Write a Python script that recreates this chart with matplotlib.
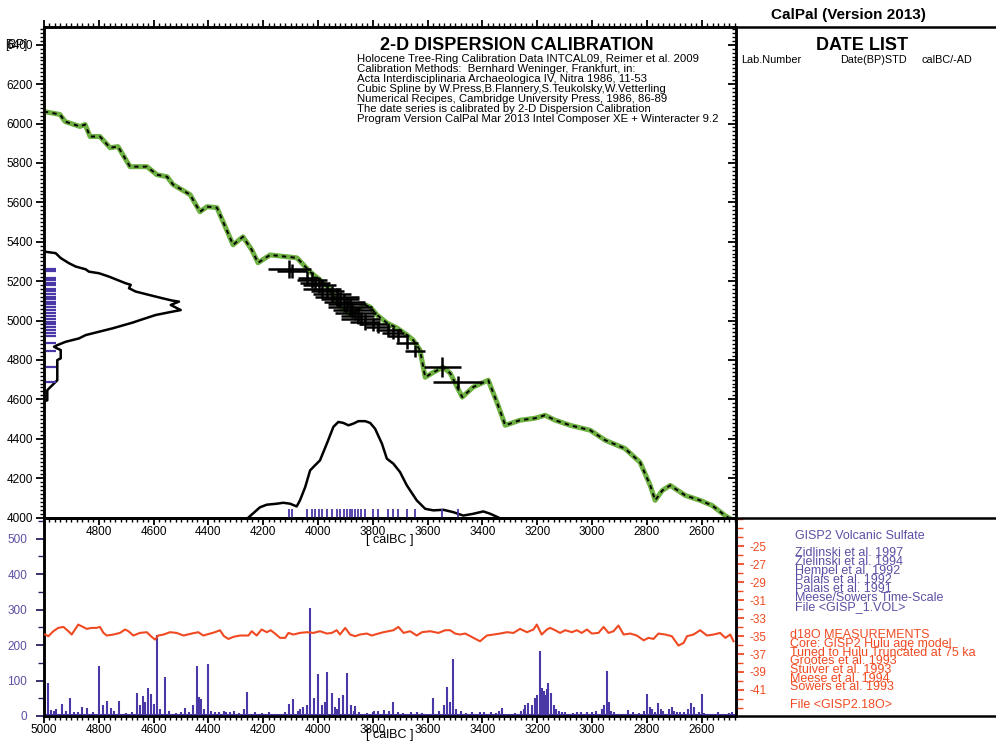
import matplotlib
matplotlib.use("Agg")
import matplotlib.pyplot as plt
from matplotlib.lines import Line2D
from matplotlib.ticker import MultipleLocator, FixedLocator, FuncFormatter

plt.rcParams['font.family'] = ['Liberation Sans', 'DejaVu Sans']
plt.rcParams['axes.unicode_minus'] = False

# ---------------- data ----------------
# calibration curve (calBC, BP)
curve_cal = [5000, 4942, 4923, 4869, 4850, 4832, 4796, 4759, 4730, 4686, 4624, 4588, 4551,
             4529, 4467, 4431, 4405, 4369, 4310, 4274, 4242, 4219, 4175, 4077, 4029, 3993,
             3956, 3920, 3883, 3858, 3828, 3810, 3785, 3748, 3712, 3675, 3653, 3628, 3609,
             3584, 3544, 3518, 3474, 3434, 3379, 3346, 3317, 3263, 3208, 3172, 3135, 3080,
             3007, 2952, 2880, 2825, 2788, 2770, 2744, 2715, 2660, 2606, 2562, 2515, 2480]
curve_bp = [6061, 6046, 6010, 5985, 5995, 5934, 5934, 5877, 5883, 5781, 5781, 5740, 5730,
            5690, 5639, 5552, 5578, 5573, 5384, 5425, 5359, 5293, 5333, 5318, 5247, 5206,
            5155, 5069, 5028, 5053, 5079, 5069, 5028, 4987, 4962, 4926, 4901, 4850, 4712,
            4733, 4763, 4733, 4611, 4662, 4697, 4580, 4468, 4494, 4504, 4519, 4494, 4468,
            4443, 4392, 4350, 4280, 4163, 4087, 4137, 4163, 4112, 4087, 4061, 4010, 3980]

# radiocarbon dates: calibrated median, cal half-range, BP, BP std
date_cal = [4105, 4095, 4040, 4022, 4010, 3996, 3985, 3967, 3950, 3931, 3920, 3905, 3895, 3885,
            3875, 3865, 3855, 3845, 3828, 3799, 3781, 3744, 3725, 3708, 3675, 3646, 3547, 3490]
date_cal_hw = [78, 55, 35, 55, 55, 60, 70, 60, 70, 80, 70, 75, 70, 80,
               70, 75, 60, 70, 55, 50, 45, 45, 40, 35, 40, 35, 67, 90]
date_bp = [5262, 5250, 5216, 5205, 5191, 5180, 5160, 5150, 5135, 5120, 5109, 5095, 5084, 5070,
           5053, 5040, 5023, 5010, 4992, 4980, 4967, 4950, 4936, 4920, 4886, 4845, 4763, 4687]
date_bp_sd = [45, 35, 35, 40, 35, 40, 45, 35, 40, 45, 35, 40, 35, 45,
              40, 35, 40, 35, 40, 35, 30, 35, 30, 30, 30, 30, 50, 30]

# summed probability in BP domain (relative)
bpdens_bp = [5350, 5342, 5317, 5291, 5274, 5260, 5248, 5240, 5223, 5189, 5181, 5164, 5147, 5130,
             5113, 5101, 5096, 5079, 5053, 5045, 5028, 5006, 4989, 4960, 4943, 4926, 4909, 4892,
             4875, 4867, 4858, 4850, 4808, 4799, 4748, 4697, 4672, 4655, 4646, 4595, 4590]
bpdens_p = [0.0, 0.085, 0.122, 0.182, 0.231, 0.304, 0.328, 0.401, 0.474, 0.596, 0.633, 0.620,
            0.669, 0.766, 0.864, 0.937, 0.985, 0.925, 0.998, 0.937, 0.815, 0.718, 0.645, 0.499,
            0.401, 0.304, 0.255, 0.158, 0.097, 0.073, 0.097, 0.122, 0.122, 0.097, 0.097, 0.097,
            0.061, 0.036, 0.024, 0.024, 0.0]

# summed probability in calendar domain (relative)
caldens_cal = [4254, 4212, 4187, 4151, 4127, 4102, 4078, 4066, 4047, 4029, 4011, 3993, 3968,
               3944, 3926, 3908, 3889, 3871, 3853, 3828, 3810, 3792, 3767, 3749, 3725, 3701,
               3676, 3640, 3609, 3579, 3543, 3506, 3470, 3433, 3397, 3372, 3342]
caldens_p = [0.0, 0.106, 0.133, 0.143, 0.153, 0.143, 0.115, 0.178, 0.315, 0.489, 0.542, 0.593,
             0.767, 0.941, 0.992, 0.982, 0.957, 0.975, 1.0, 1.0, 0.982, 0.922, 0.767, 0.611,
             0.558, 0.472, 0.333, 0.178, 0.090, 0.074, 0.080, 0.055, 0.020, 0.039, 0.063,
             0.039, 0.0]

# GISP2 volcanic sulfate (calBC, ppb)
sulf_year = [4985, 4975, 4965, 4955, 4934, 4920, 4905, 4890, 4875, 4860, 4843, 4820, 4800, 4785,
             4770, 4755, 4745, 4726, 4700, 4680, 4660, 4650, 4638, 4630, 4620, 4609, 4600, 4588,
             4575, 4558, 4545, 4520, 4500, 4485, 4470, 4455, 4441, 4433, 4427, 4415, 4401, 4390,
             4375, 4360, 4345, 4335, 4320, 4307, 4290, 4270, 4259, 4230, 4205, 4180, 4160, 4120,
             4105, 4091, 4075, 4065, 4055, 4040, 4029, 4015, 4000, 3985, 3975, 3967, 3950, 3940,
             3930, 3922, 3910, 3894, 3880, 3870, 3865, 3850, 3820, 3800, 3795, 3780, 3760, 3740,
             3726, 3710, 3690, 3660, 3640, 3620, 3600, 3580, 3560, 3540, 3529, 3520, 3507, 3495,
             3480, 3460, 3440, 3420, 3410, 3395, 3370, 3350, 3340, 3330, 3310, 3280, 3260, 3250,
             3244, 3234, 3220, 3210, 3200, 3190, 3182, 3175, 3170, 3165, 3160, 3150, 3140, 3130,
             3120, 3110, 3100, 3070, 3055, 3040, 3020, 3000, 2985, 2965, 2955, 2945, 2940, 2930,
             2920, 2900, 2870, 2850, 2830, 2810, 2799, 2790, 2780, 2770, 2760, 2750, 2740, 2720,
             2710, 2700, 2690, 2680, 2665, 2650, 2638, 2630, 2610, 2598, 2590, 2560, 2540, 2520,
             2500, 2490]
sulf_val = [94, 18, 14, 20, 34, 15, 51, 12, 10, 25, 23, 12, 140, 30,
            43, 22, 15, 43, 8, 12, 65, 30, 57, 40, 80, 63, 35, 228,
            20, 110, 15, 8, 10, 23, 12, 30, 142, 55, 48, 20, 148, 15,
            10, 12, 15, 10, 12, 15, 8, 20, 68, 10, 8, 12, 6, 10,
            35, 48, 15, 20, 26, 30, 304, 50, 119, 30, 40, 125, 65, 25,
            20, 51, 60, 122, 30, 15, 27, 12, 8, 10, 14, 15, 18, 15,
            40, 12, 8, 10, 12, 8, 6, 51, 15, 30, 82, 40, 162, 20,
            15, 8, 10, 6, 12, 10, 12, 8, 15, 22, 5, 8, 15, 20,
            31, 37, 30, 50, 60, 184, 80, 70, 60, 75, 94, 65, 30, 20,
            15, 10, 12, 8, 10, 12, 10, 12, 15, 20, 30, 128, 40, 15,
            10, 6, 18, 10, 8, 15, 62, 25, 20, 12, 37, 20, 15, 20,
            25, 15, 10, 12, 12, 20, 37, 25, 10, 62, 8, 6, 10, 5,
            8, 12]

# GISP2 d18O (calBC, permil)
d18o_year = [4996, 4984, 4966, 4948, 4929, 4911, 4899, 4887, 4875, 4863, 4844, 4826, 4808, 4796,
             4783, 4771, 4747, 4723, 4704, 4692, 4674, 4650, 4625, 4607, 4595, 4583, 4564, 4540,
             4516, 4491, 4461, 4437, 4419, 4394, 4376, 4358, 4343, 4327, 4309, 4285, 4254, 4242,
             4224, 4206, 4187, 4173, 4157, 4139, 4120, 4108, 4090, 4066, 4041, 4017, 3993, 3968,
             3950, 3932, 3920, 3901, 3883, 3865, 3847, 3822, 3804, 3780, 3761, 3743, 3725, 3707,
             3688, 3664, 3640, 3621, 3591, 3561, 3536, 3518, 3500, 3482, 3463, 3433, 3409, 3384,
             3360, 3336, 3311, 3287, 3263, 3238, 3214, 3202, 3184, 3165, 3153, 3135, 3117, 3098,
             3074, 3056, 3038, 3019, 3001, 2977, 2958, 2940, 2922, 2904, 2885, 2861, 2837, 2812,
             2794, 2776, 2758, 2733, 2709, 2685, 2666, 2654, 2630, 2606, 2581, 2557, 2533, 2514,
             2496, 2484]
d18o_val = [-34.83, -35.02, -34.46, -34.09, -33.98, -34.46, -34.83, -34.27, -33.72, -33.90,
            -34.20, -34.09, -34.09, -33.98, -34.65, -34.94, -34.83, -34.65, -34.27, -34.46,
            -34.94, -34.65, -34.57, -35.09, -35.39, -34.94, -34.83, -34.57, -34.65, -34.94,
            -34.72, -34.57, -34.94, -34.72, -34.57, -34.35, -35.02, -35.32, -35.09, -34.94,
            -34.94, -34.46, -34.94, -34.27, -34.57, -34.35, -34.72, -35.20, -35.20, -34.65,
            -34.83, -34.65, -34.57, -34.65, -34.46, -34.72, -34.65, -34.35, -34.83, -34.09,
            -34.83, -35.02, -34.83, -34.72, -34.94, -34.72, -34.57, -34.46, -34.35, -33.98,
            -34.65, -34.46, -34.94, -34.57, -34.46, -34.65, -34.35, -34.35, -34.72, -34.83,
            -34.72, -35.20, -35.58, -34.94, -34.83, -34.72, -34.57, -34.65, -34.20, -34.57,
            -34.27, -33.72, -34.83, -34.27, -34.09, -34.35, -34.65, -34.35, -34.57, -34.35,
            -34.65, -34.27, -34.72, -34.65, -33.98, -34.65, -34.46, -33.83, -34.83, -34.72,
            -34.94, -35.47, -35.20, -35.32, -34.72, -34.83, -35.02, -36.06, -35.76, -35.02,
            -34.83, -34.35, -34.94, -34.83, -34.65, -35.20, -34.83, -35.58]

x_ticks = [5000, 4800, 4600, 4400, 4200, 4000, 3800, 3600, 3400, 3200, 3000, 2800, 2600]
bp_ticks = [4000, 4200, 4400, 4600, 4800, 5000, 5200, 5400, 5600, 5800, 6000, 6200, 6400]
sulf_ticks = [0, 100, 200, 300, 400, 500]
d18o_ticks = [-25, -27, -29, -31, -33, -35, -37, -39, -41]

info_lines = [
    "Holocene Tree-Ring Calibration Data INTCAL09, Reimer et al. 2009",
    "Calibration Methods:  Bernhard Weninger, Frankfurt, in:",
    "Acta Interdisciplinaria Archaeologica IV, Nitra 1986, 11-53",
    "Cubic Spline by W.Press,B.Flannery,S.Teukolsky,W.Vetterling",
    "Numerical Recipes, Cambridge University Press, 1986, 86-89",
    "The date series is calibrated by 2-D Dispersion Calibration",
    "Program Version CalPal Mar 2013 Intel Composer XE + Winteracter 9.2",
]
sulf_lines = ["Zidlinski et al. 1997", "Zielinski et al. 1994", "Hempel et al. 1992",
              "Palais et al. 1992", "Palais et al. 1991", "Meese/Sowers Time-Scale",
              "File <GISP_1.VOL>"]
d18o_lines = ["Core: GISP2 Hulu age model", "Tuned to Hulu Truncated at 75 ka",
              "Grootes et al. 1993", "Stuiver et al. 1993", "Meese et al. 1994",
              "Sowers et al. 1993"]

# ---------------- style ----------------
W, H = 996, 742
PURPLE = '#4a38a6'
PURPLE_T = '#5d4fa3'
RED = '#f04a22'
GREEN = '#6fb043'


def fx(x):
    return x / W


def fy(y):
    return 1 - y / H


fig = plt.figure(figsize=(W / 100, H / 100), dpi=100)
fig.patch.set_facecolor('white')

X0, X1 = 44, 736
YT, YM, YB = 27, 517.5, 716
axb = fig.add_axes([fx(X0), fy(YB), fx(X1 - X0), (YB - YM) / H])
axb.patch.set_visible(False)
ax = fig.add_axes([fx(X0), fy(YM), fx(X1 - X0), (YM - YT) / H])
ax.set_zorder(3)
ax.patch.set_visible(False)

XL = (5000, 2475)
YL = (4000, 6490)
ax.set_xlim(*XL)
ax.set_ylim(*YL)

# calibration curve
ax.plot(curve_cal, curve_bp, color=GREEN, lw=3.6, solid_capstyle='round', zorder=3)
ax.plot(curve_cal, curve_bp, color='black', lw=1.4, dashes=(2.2, 2.2), zorder=4)

# dates with error crosses
ax.errorbar(date_cal, date_bp, xerr=date_cal_hw, yerr=date_bp_sd, fmt='none',
            ecolor='black', elinewidth=1.8, capsize=0, zorder=5)

# BP-domain probability (drawn along left axis)
bp_scale = 500.0
ax.plot([XL[0] - p * bp_scale for p in bpdens_p], bpdens_bp, color='black', lw=1.8, zorder=6)
ax.hlines(date_bp, XL[0], XL[0] - 45, color=PURPLE, lw=1.6, zorder=6)

# cal-domain probability (drawn along bottom axis)
cal_scale = 489.0
ax.plot(caldens_cal, [4000 + p * cal_scale for p in caldens_p], color='black', lw=1.8, zorder=6)
ax.vlines(date_cal, 4000, 4045, color=PURPLE, lw=1.3, zorder=6)

for s in ax.spines.values():
    s.set_linewidth(1.8)
ax.xaxis.set_major_locator(FixedLocator(x_ticks))
ax.xaxis.set_minor_locator(MultipleLocator(20))
ax.xaxis.set_major_formatter(FuncFormatter(lambda v, p: '' if v >= 4999 else '%d' % v))
ax.yaxis.set_major_locator(FixedLocator(bp_ticks))
ax.yaxis.set_minor_locator(MultipleLocator(20))
ax.yaxis.set_major_formatter(FuncFormatter(lambda v, p: '%d' % v))
ax.tick_params(axis='x', which='major', length=5, width=1.3, labelsize=8.5, pad=1,
               direction='out', top=True, bottom=True)
ax.tick_params(axis='x', which='minor', length=3, width=1.0, direction='out',
               top=True, bottom=True)
ax.tick_params(axis='y', which='major', length=6, width=1.3, labelsize=8.5, pad=2,
               direction='out', right=False)
ax.tick_params(axis='y', which='minor', length=3, width=1.0, direction='out', right=False)

# inward ticks on the right edge of the main panel
axr_main = ax.twinx()
axr_main.set_ylim(*YL)
axr_main.yaxis.set_major_locator(FixedLocator(bp_ticks))
axr_main.yaxis.set_minor_locator(MultipleLocator(20))
axr_main.tick_params(axis='y', which='major', direction='in', length=6, width=1.3,
                     labelright=False)
axr_main.tick_params(axis='y', which='minor', direction='in', length=3, width=1.0)
for s in axr_main.spines.values():
    s.set_linewidth(1.8)

ax.text(0.5, -0.046, '[ calBC ]', transform=ax.transAxes, ha='center', va='center',
        fontsize=9)
fig.text(fx(16), fy(45), '[BP]', ha='center', va='center', fontsize=8.5)

# ---------------- bottom panel ----------------
axb.set_xlim(*XL)
axb.set_ylim(0, 560)
axb.vlines(sulf_year, 0, sulf_val, color=PURPLE, lw=1.5, zorder=3)
axb.axhline(2, color=PURPLE, lw=1.5, zorder=3)
axb.xaxis.set_major_locator(FixedLocator(x_ticks))
axb.xaxis.set_minor_locator(MultipleLocator(20))
axb.xaxis.set_major_formatter(FuncFormatter(lambda v, p: '%d' % v))
axb.yaxis.set_major_locator(FixedLocator(sulf_ticks))
axb.yaxis.set_minor_locator(MultipleLocator(50))
axb.tick_params(axis='y', which='major', length=6, width=1.3, labelsize=8.5,
                labelcolor=PURPLE_T, color='#2a2060', pad=6)
axb.tick_params(axis='y', which='minor', length=4, width=1.0, color='#2a2060')
axb.tick_params(axis='x', which='major', length=5, width=1.3, labelsize=8.5, pad=1)
axb.tick_params(axis='x', which='minor', length=3, width=1.0)
for s in axb.spines.values():
    s.set_linewidth(1.8)
axb.text(0.5, -0.095, '[ calBC ]', transform=axb.transAxes, ha='center', va='center',
         fontsize=9)

axr = axb.twinx()
axr.set_ylim(-43.9, -21.8)
axr.plot(d18o_year, d18o_val, color=RED, lw=1.5, zorder=4)
axr.yaxis.set_major_locator(FixedLocator(d18o_ticks))
axr.yaxis.set_minor_locator(MultipleLocator(1))
axr.tick_params(axis='y', which='major', length=6, width=1.3, color=RED, labelcolor=RED,
                labelsize=8.5, pad=4)
axr.tick_params(axis='y', which='minor', length=5, width=1.0, color=RED)
for s in axr.spines.values():
    s.set_linewidth(1.8)

# ---------------- frame lines of side panels ----------------
for (xa, ya, xb, yb) in [(X1, YT, W, YT), (X1, YM, W, YM), (X1, YB, W, YB)]:
    fig.add_artist(Line2D([fx(xa), fx(xb)], [fy(ya), fy(yb)], transform=fig.transFigure,
                          color='black', lw=1.8))

# ---------------- texts ----------------
fig.text(fx(848), fy(15), 'CalPal (Version 2013)', ha='center', va='center',
         fontsize=11, fontweight='bold')
fig.text(fx(517), fy(45), '2-D DISPERSION CALIBRATION', ha='center', va='center',
         fontsize=13, fontweight='bold')
for i, line in enumerate(info_lines):
    fig.text(fx(357), fy(59 + i * 10), line, ha='left', va='center', fontsize=8.2)

fig.text(fx(862), fy(45), 'DATE LIST', ha='center', va='center', fontsize=13,
         fontweight='bold')
fig.text(fx(741), fy(60), 'Lab.Number', ha='left', va='center', fontsize=7.8)
fig.text(fx(840), fy(60), 'Date(BP)STD', ha='left', va='center', fontsize=7.8)
fig.text(fx(921), fy(60), 'calBC/-AD', ha='left', va='center', fontsize=7.8)

fig.text(fx(795), fy(536), 'GISP2 Volcanic Sulfate', ha='left', va='center',
         fontsize=9, color=PURPLE_T)
for i, line in enumerate(sulf_lines):
    fig.text(fx(795), fy(553 + i * 9), line, ha='left', va='center', fontsize=9,
             color=PURPLE_T)
fig.text(fx(790), fy(635), 'd18O MEASUREMENTS', ha='left', va='center', fontsize=9,
         color=RED)
for i, line in enumerate(d18o_lines):
    fig.text(fx(790), fy(644 + i * 8.7), line, ha='left', va='center', fontsize=9,
             color=RED)
fig.text(fx(790), fy(705), 'File <GISP2.18O>', ha='left', va='center', fontsize=9,
         color=RED)

fig.savefig('out.png', dpi=100, facecolor='white')
